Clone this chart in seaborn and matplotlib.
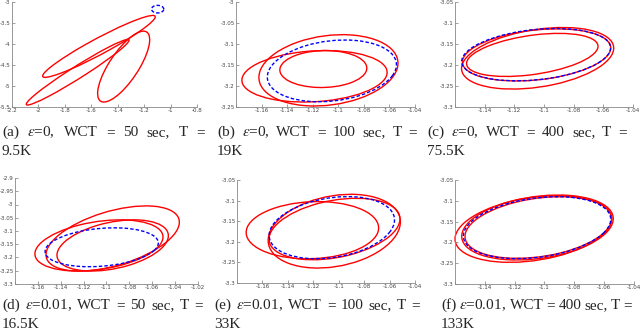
import matplotlib
matplotlib.use("Agg")
import matplotlib.pyplot as plt
import numpy as np
import seaborn as sns
from matplotlib.patches import Ellipse
from matplotlib.ticker import FixedLocator, FixedFormatter

# ---------------------------------------------------------------------------
# Ellipses: centre, half extent in x / y, correlation
# one list per panel (a)..(f)
# ---------------------------------------------------------------------------
red_cx = [[-1.542, -1.703, -1.355],
          [-1.1077, -1.1186, -1.1117],
          [-1.1043, -1.1050, -1.1079],
          [-1.0946, -1.1066, -1.0946],
          [-1.1207, -1.1035, -1.1033],
          [-1.1075, -1.1047, -1.1041]]
red_cy = [[-4.057, -4.672, -4.538],
          [-3.1627, -3.1769, -3.1596],
          [-3.184, -3.1760, -3.176],
          [-3.1282, -3.1545, -3.1545],
          [-3.1718, -3.1742, -3.169],
          [-3.1678, -3.1642, -3.1642]]
red_sx = [[0.426, 0.389, 0.197],
          [0.0544, 0.0568, 0.034],
          [0.0513, 0.0500, 0.0443],
          [0.0583, 0.056, 0.0487],
          [0.0521, 0.052, 0.0515],
          [0.0525, 0.0508, 0.0492]]
red_sy = [[0.737, 0.781, 0.844],
          [0.0849, 0.0613, 0.044],
          [0.0733, 0.0620, 0.0513],
          [0.1229, 0.0966, 0.0966],
          [0.0694, 0.0895, 0.0746],
          [0.0801, 0.0781, 0.0741]]
red_rho = [[0.955, 0.975, 0.76],
           [0.2, 0.15, 0.05],
           [0.33, 0.27, 0.4],
           [0.5, 0.33, 0.38],
           [0.08, 0.25, 0.33],
           [0.3, 0.27, 0.29]]

blue_cx = [-1.098, -1.105, -1.1053, -1.1042, -1.1054, -1.105]
blue_cy = [-3.17, -3.164, -3.1754, -3.1614, -3.1657, -3.1646]
blue_sx = [0.0465, 0.0505, 0.0502, 0.0495, 0.0493, 0.0494]
blue_sy = [0.09, 0.0735, 0.0623, 0.0734, 0.0754, 0.0745]
blue_rho = [0.0, 0.2, 0.26, 0.22, 0.25, 0.27]

xlims = [(-2.2, -0.8), (-1.18, -1.04), (-1.16, -1.04),
         (-1.18, -1.02), (-1.18, -1.04), (-1.16, -1.04)]
ylims = [(-5.5, -3.0), (-3.25, -3.0), (-3.3, -3.05),
         (-3.3, -2.9), (-3.3, -3.05), (-3.3, -3.05)]

# tick labels as printed; an empty string marks an unlabelled corner tick
xticklabels = [
    ["-2.2", "-2", "-1.8", "-1.6", "-1.4", "-1.2", "-1", "-0.8"],
    ["", "-1.16", "-1.14", "-1.12", "-1.1", "-1.08", "-1.06", "-1.04"],
    ["", "-1.14", "-1.12", "-1.1", "-1.08", "-1.06", "-1.04"],
    ["", "-1.16", "-1.14", "-1.12", "-1.1", "-1.08", "-1.06", "-1.04", "-1.02"],
    ["", "-1.16", "-1.14", "-1.12", "-1.1", "-1.08", "-1.06", "-1.04"],
    ["", "-1.14", "-1.12", "-1.1", "-1.08", "-1.06", "-1.04"],
]
yticklabels = [
    ["-5.5", "-5", "-4.5", "-4", "-3.5", "-3"],
    ["-3.25", "-3.2", "-3.15", "-3.1", "-3.05", "-3"],
    ["-3.3", "-3.25", "-3.2", "-3.15", "-3.1", "-3.05"],
    ["-3.3", "-3.25", "-3.2", "-3.15", "-3.1", "-3.05", "-3", "-2.95", "-2.9"],
    ["-3.3", "-3.25", "-3.2", "-3.15", "-3.1", "-3.05"],
    ["-3.3", "-3.25", "-3.2", "-3.15", "-3.1", "-3.05"],
]

captions = [
    (["(a)", r"$\epsilon$=0,", "WCT", "=", "50", "sec,", "T", "="], "9.5K"),
    (["(b)", r"$\epsilon$=0,", "WCT", "=", "100", "sec,", "T", "="], "19K"),
    (["(c)", r"$\epsilon$=0,", "WCT", "=", "400", "sec,", "T", "="], "75.5K"),
    (["(d)", r"$\epsilon$=0.01,", "WCT", "=", "50", "sec,", "T", "="], "16.5K"),
    (["(e)", r"$\epsilon$=0.01,", "WCT", "=", "100", "sec,", "T", "="], "33K"),
    (["(f)", r"$\epsilon$=0.01,", "WCT", "=", "400", "sec,", "T", "="], "133K"),
]

# layout in pixels (left, right, top, bottom) of each axes, and caption span
W, H = 640, 335
ax_px = [(12, 197, 2, 107), (236, 415, 2, 107), (455, 633, 2, 107),
         (15, 198, 178, 284), (237, 415, 180, 283), (455, 634, 180, 284)]
cap_px = [(2, 205, 136), (217, 417, 136), (427, 627, 136),
          (2, 203, 309), (214, 420, 309), (441, 632, 309)]
LINE_GAP = 19


def cov_ellipse(cx, cy, sx, sy, rho, **kw):
    """Ellipse patch for the covariance [[sx^2, r sx sy], [r sx sy, sy^2]]."""
    c = np.array([[sx**2, rho*sx*sy], [rho*sx*sy, sy**2]])
    vals, vecs = np.linalg.eigh(c)
    angle = np.degrees(np.arctan2(vecs[1, 1], vecs[0, 1]))
    return Ellipse((cx, cy), 2*np.sqrt(vals[1]), 2*np.sqrt(vals[0]),
                   angle=angle, fill=False, clip_on=False, **kw)


sns.set_theme(style="ticks")
plt.rcParams['font.family'] = ['Liberation Serif', 'DejaVu Serif']
plt.rcParams['mathtext.fontset'] = 'stix'

fig = plt.figure(figsize=(W/100, H/100), dpi=100)

for i in range(6):
    l, r, t, b = ax_px[i]
    ax = fig.add_axes([l/W, (H - b)/H, (r - l)/W, (b - t)/H])
    for k in range(len(red_cx[i])):
        ax.add_patch(cov_ellipse(red_cx[i][k], red_cy[i][k], red_sx[i][k],
                                 red_sy[i][k], red_rho[i][k],
                                 ec='#ff0000', lw=1.0))
    ax.add_patch(cov_ellipse(blue_cx[i], blue_cy[i], blue_sx[i], blue_sy[i],
                             blue_rho[i], ec='#0000ff', lw=1.0,
                             ls=(0, (2.5, 1.5))))
    ax.set_xlim(*xlims[i])
    ax.set_ylim(*ylims[i])
    xt = np.linspace(xlims[i][0], xlims[i][1], len(xticklabels[i]))
    yt = np.linspace(ylims[i][0], ylims[i][1], len(yticklabels[i]))
    ax.xaxis.set_major_locator(FixedLocator(xt))
    ax.yaxis.set_major_locator(FixedLocator(yt))
    ax.xaxis.set_major_formatter(FixedFormatter(xticklabels[i]))
    ax.yaxis.set_major_formatter(FixedFormatter(yticklabels[i]))
    ax.tick_params(direction='in', length=2, width=0.5, color='#777777',
                   labelsize=4, labelcolor='#444444', pad=1)
    for lab in ax.get_xticklabels() + ax.get_yticklabels():
        lab.set_family('DejaVu Sans')
    sns.despine(ax=ax)
    for s in ('left', 'bottom'):
        ax.spines[s].set_linewidth(0.6)
        ax.spines[s].set_color('#888888')

# justified captions
renderer = fig.canvas.get_renderer()
for i, (words, tail) in enumerate(captions):
    x0, x1, y = cap_px[i]
    texts = [fig.text(0, 0, w, fontsize=11, ha='left', va='baseline')
             for w in words]
    widths = [t.get_window_extent(renderer).width for t in texts]
    gap = (x1 - x0 - sum(widths)) / (len(words) - 1)
    x = x0
    for t, w in zip(texts, widths):
        t.set_position((x/W, (H - y)/H))
        x += w + gap
    fig.text(x0/W, (H - y - LINE_GAP)/H, tail, fontsize=11,
             ha='left', va='baseline')

fig.savefig('out.png', dpi=100)
